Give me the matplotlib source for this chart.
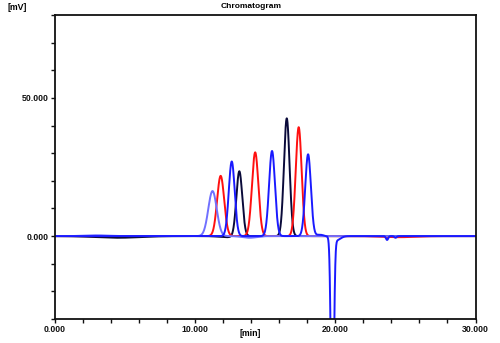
import numpy as np
import matplotlib
matplotlib.use("Agg")
import matplotlib.pyplot as plt

# peak table per trace: retention time [min], height [mV], width (sigma) [min]
red_rt = [11.84, 14.30, 17.40, 24.5]
red_height = [21.8, 30.3, 39.4, -0.4]
red_sigma = [0.25, 0.23, 0.21, 1.2]

black_rt = [4.5, 13.17, 16.55, 12.3]
black_height = [-0.6, 23.6, 42.6, -0.4]
black_sigma = [1.6, 0.21, 0.20, 0.6]

blue_rt = [12.63, 15.50, 18.07, 19.80, 20.05, 23.70, 24.30, 18.9]
blue_height = [27.0, 30.8, 29.6, -80.0, -1.6, -1.4, -0.6, 0.5]
blue_sigma = [0.21, 0.21, 0.20, 0.10, 0.30, 0.08, 0.08, 0.25]

lightblue_rt = [11.26, 13.9, 3.0]
lightblue_height = [16.3, -0.6, 0.3]
lightblue_sigma = [0.30, 0.5, 0.8]

traces = [
    ("#0a0a3a", black_rt, black_height, black_sigma),
    ("#ff1010", red_rt, red_height, red_sigma),
    ("#7070ff", lightblue_rt, lightblue_height, lightblue_sigma),
    ("#1a1aff", blue_rt, blue_height, blue_sigma),
]

t = np.linspace(0, 30, 6001)


def signal(rts, heights, sigmas):
    y = np.zeros_like(t)
    for rt, h, s in zip(rts, heights, sigmas):
        y += h * np.exp(-0.5 * ((t - rt) / s) ** 2)
    return y


plt.rcParams["font.family"] = ["Liberation Sans", "DejaVu Sans"]

fig = plt.figure(figsize=(5.0, 3.43), dpi=100)
ax = fig.add_axes([54.5 / 500, 1 - 319 / 343, 421 / 500, 304 / 343])

for color, rts, heights, sigmas in traces:
    ax.plot(t, signal(rts, heights, sigmas), color=color, lw=1.4)

ax.set_xlim(0, 30)
ax.set_ylim(-30, 80)
ax.set_xticks([0, 10, 20, 30])
ax.set_xticklabels(["0.000", "10.000", "20.000", "30.000"])
ax.set_xticks(np.arange(0, 31, 2), minor=True)
ax.set_yticks([0, 50])
ax.set_yticklabels(["0.000", "50.000"])
ax.set_yticks(np.arange(-30, 81, 10), minor=True)
ax.tick_params(which="both", direction="out", length=3, width=1, pad=1.5,
               labelsize=6.3, colors="#111111")
for lab in ax.get_xticklabels() + ax.get_yticklabels():
    lab.set_fontweight("bold")
for sp in ax.spines.values():
    sp.set_linewidth(1.3)
    sp.set_color("#111111")

fig.text(251 / 500, 1 - 7 / 343, "Chromatogram", ha="center", va="center",
         fontsize=6, fontweight="bold")
fig.text(8 / 500, 1 - 8 / 343, "[mV]", ha="left", va="center",
         fontsize=6.3, fontweight="bold")
fig.text(250 / 500, 1 - 333 / 343, "[min]", ha="center", va="center",
         fontsize=6.3, fontweight="bold")

fig.savefig("out.png", dpi=100)
